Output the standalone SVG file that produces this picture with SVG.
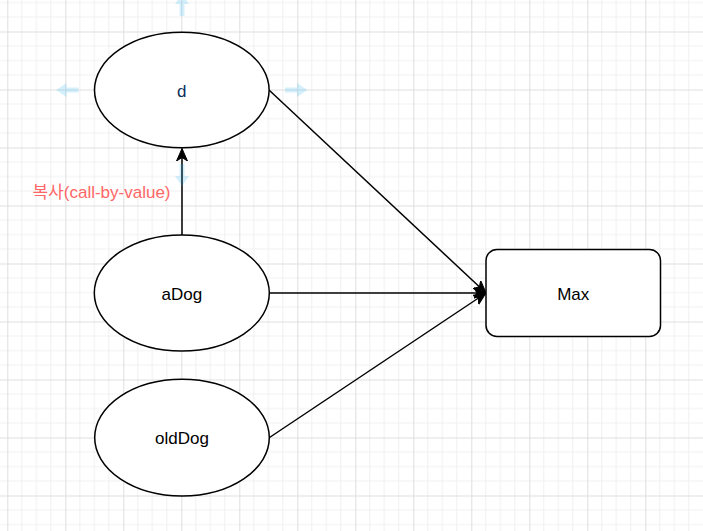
<svg xmlns="http://www.w3.org/2000/svg" width="703" height="531" viewBox="0 0 703 531">
  <style>
    .node ellipse, .node rect { fill: #ffffff; stroke: #000000; stroke-width: 1.5; }
    .lbl { font-family: "Liberation Sans", Arial, sans-serif; font-size: 17px; text-anchor: middle; fill: #000000; }
    .edge { stroke: #000000; stroke-width: 1.5; fill: none; }
    .hint { fill: #29b6f2; fill-opacity: 0.2; }
    .minor { stroke: #f0f0f0; stroke-width: 1; }
    .major { stroke: #dedede; stroke-width: 1; }
  </style>
  <defs>
    <pattern id="grid" patternUnits="userSpaceOnUse" x="7.3" y="31.5" width="58" height="58">
      <path class="minor" d="M14.5,0V58M29,0V58M43.5,0V58M0,14.5H58M0,29H58M0,43.5H58"/>
      <path class="major" d="M0.5,0V58M0,0.5H58"/>
    </pattern>
    <marker id="arr" markerUnits="userSpaceOnUse" viewBox="0 0 13 12" refX="12.5" refY="6" markerWidth="13" markerHeight="12" orient="auto">
      <path d="M0,0.5 L12.5,6 L0,11.5 L3.5,6 Z" fill="#000000" stroke="#000000" stroke-width="1"/>
    </marker>
  </defs>

  <rect x="0" y="0" width="703" height="531" fill="#ffffff"/>
  <rect x="0" y="0" width="703" height="531" fill="url(#grid)"/>

  <g id="connectors">
    <line class="edge" x1="182" y1="235" x2="182" y2="148.5" marker-end="url(#arr)"/>
    <line class="edge" x1="269" y1="90" x2="486" y2="293" marker-end="url(#arr)"/>
    <line class="edge" x1="269.5" y1="293" x2="486" y2="293" marker-end="url(#arr)"/>
    <line class="edge" x1="269.5" y1="437.5" x2="486" y2="293" marker-end="url(#arr)"/>
    <text x="101.5" y="198" font-family="'Liberation Sans', 'Noto Sans CJK KR', sans-serif" font-size="17" text-anchor="middle" fill="#ff6666">복사(call-by-value)</text>
  </g>

  <g id="node-d" class="node">
    <ellipse cx="181.8" cy="90" rx="87.3" ry="57.7"/>
    <text class="lbl" x="181.8" y="96.5" style="fill:#0a2f5c">d</text>
  </g>
  <g id="node-aDog" class="node">
    <ellipse cx="181.8" cy="293" rx="87.5" ry="58"/>
    <text class="lbl" x="181.8" y="299.5">aDog</text>
  </g>
  <g id="node-oldDog" class="node">
    <ellipse cx="182" cy="437.6" rx="87.3" ry="58.3"/>
    <text class="lbl" x="182" y="444">oldDog</text>
  </g>
  <g id="node-Max" class="node">
    <rect x="486" y="249.5" width="174.5" height="87" rx="11" ry="11"/>
    <text class="lbl" x="573.2" y="299.5">Max</text>
  </g>

  <g id="hover-hints">
    <path class="hint" d="M179.5,16 V4 H175 L182,-6 L189,4 H184.5 V16 Z"/>
    <path class="hint" d="M179.5,164 V176 H175 L182,186.5 L189,176 H184.5 V164 Z"/>
    <path class="hint" d="M285,87.5 H297 V83 L307.5,90 L297,97 V92.5 H285 Z"/>
    <path class="hint" d="M78.5,87.5 H66.5 V83 L56,90 L66.5,97 V92.5 H78.5 Z"/>
  </g>
</svg>
